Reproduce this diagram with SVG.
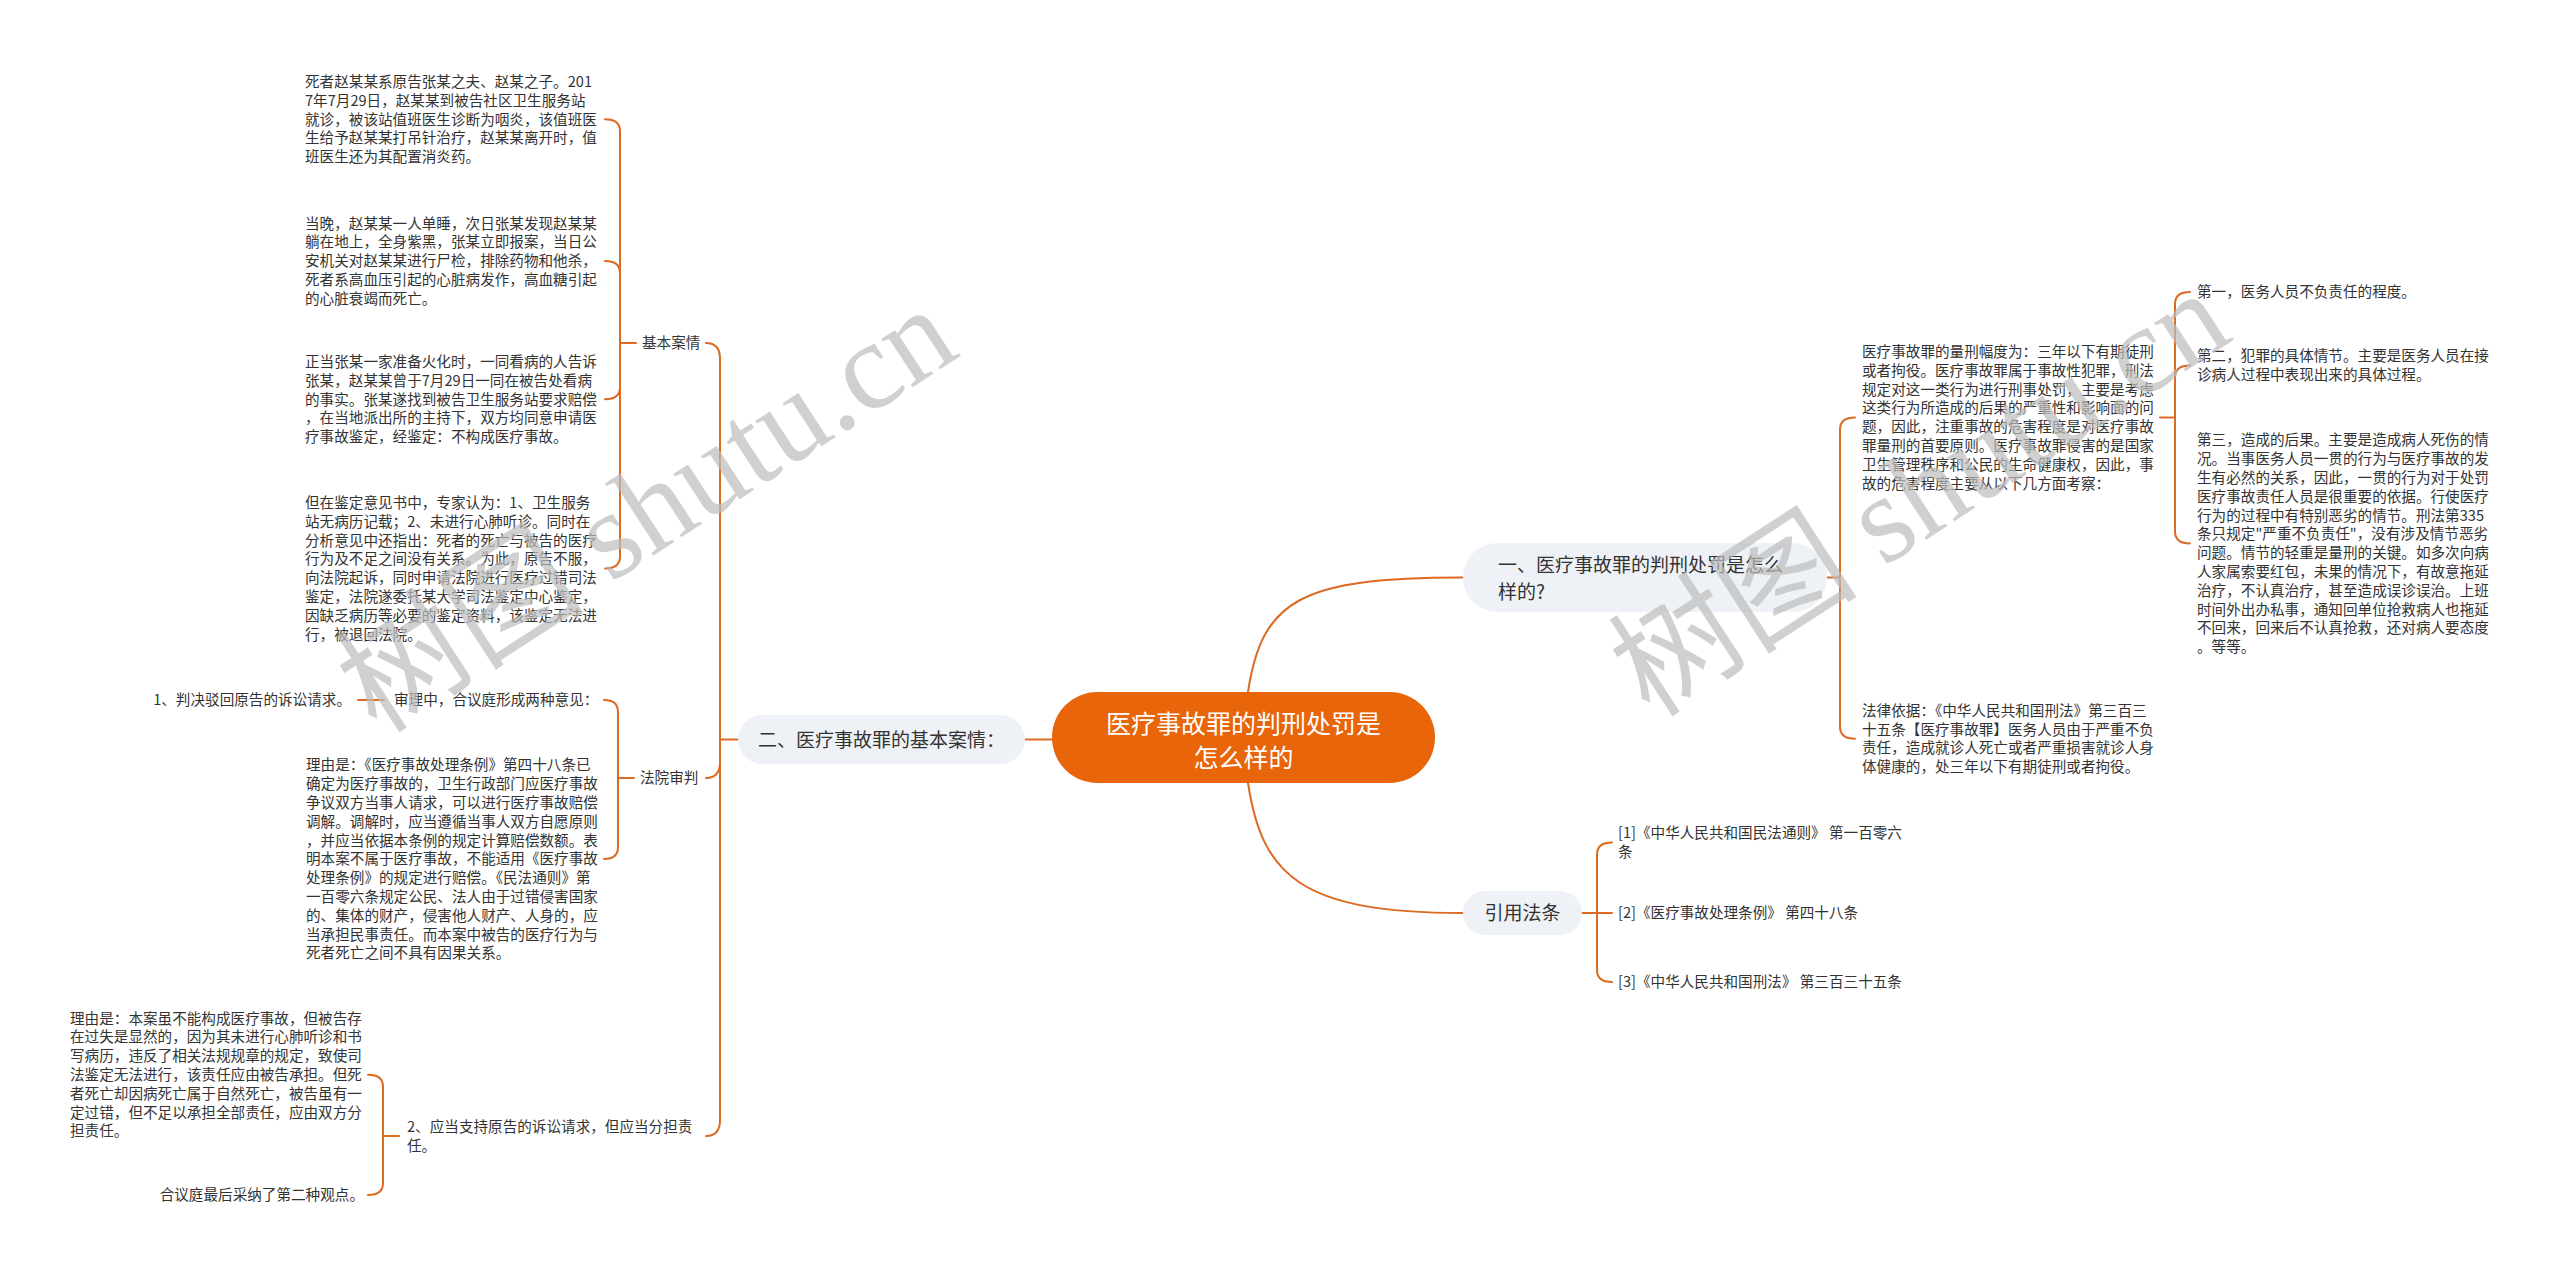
<svg xmlns="http://www.w3.org/2000/svg" width="2560" height="1275" viewBox="0 0 2560 1275">
<style>
.c{fill:none;stroke:#DC6A22;stroke-width:2;stroke-linecap:round}
.t{font-family:"Noto Sans CJK SC","Noto Sans",sans-serif;font-size:14.6px;fill:#333}
.b{font-family:"Noto Sans CJK SC","Noto Sans",sans-serif;font-size:19px;fill:#333}
.r{font-family:"Noto Sans CJK SC","Noto Sans",sans-serif;font-size:25px;fill:#fff}
.bn{fill:#EEF1F5}
.wm{font-family:"Noto Sans CJK SC","Liberation Serif",serif;font-size:125px;fill:#bdbdbd;opacity:.7}
</style>
<rect width="2560" height="1275" fill="#fff"/>
<g id="connectors">
<path class="c" d="M1052,739.5 H1025"/>
<path class="c" d="M1248,692 C1262,600 1300,577.5 1463,577.5"/>
<path class="c" d="M1248,783 C1262,875 1300,913 1463,913"/>
<path class="c" d="M738,739.5 H720 M720,739.5 V359 Q720,343 706,343 M720,739.5 V762 Q720,778 706,778 M720,739.5 V1120 Q720,1136 706,1136"/>
<path class="c" d="M636,343 H620 M620,343 V131.3 Q620,119.3 605,119.3 M620,343 V272.9 Q620,260.9 605,260.9 M620,343 V387.3 Q620,399.3 605,399.3 M620,343 V556.5 Q620,568.5 605,568.5"/>
<path class="c" d="M634,778 H618 M618,778 V712 Q618,700 604,700 M618,778 V847 Q618,859 604,859"/>
<path class="c" d="M399,1136 H383 M383,1136 V1086.7 Q383,1074.7 368,1074.7 M383,1136 V1183 Q383,1195 368,1195"/>
<path class="c" d="M384,700 H358"/>
<path class="c" d="M1827,577.5 H1840 M1840,577.5 V429.5 Q1840,417.5 1855,417.5 M1840,577.5 V726.7 Q1840,738.7 1855,738.7"/>
<path class="c" d="M2160,417.5 H2175 M2175,417.5 V304 Q2175,292 2190,292 M2175,417.5 V377.4 Q2175,365.4 2190,365.4 M2175,417.5 V531.4 Q2175,543.4 2190,543.4"/>
<path class="c" d="M1582,913 H1612 M1597,913 V854.4 Q1597,842.4 1612,842.4 M1597,913 V970 Q1597,982 1612,982"/>
</g>
<g id="root">
<rect x="1052" y="692" width="383" height="91" rx="45.5" fill="#E8650A"/>
<text class="r" text-anchor="middle"><tspan x="1243.5" y="732.5">医疗事故罪的判刑处罚是</tspan><tspan x="1243.5" y="766.5">怎么样的</tspan></text>
</g>
<g id="branch-left">
<rect class="bn" x="738" y="715" width="287" height="49" rx="24.5"/>
<text class="b" x="881.5" y="746.5" text-anchor="middle">二、医疗事故罪的基本案情：</text>
</g>
<g id="branch-right1">
<rect class="bn" x="1463" y="543" width="364" height="69" rx="34.5"/>
<text class="b"><tspan x="1498" y="572">一、医疗事故罪的判刑处罚是怎么</tspan><tspan x="1498" y="599">样的?</tspan></text>
</g>
<g id="branch-right2">
<rect class="bn" x="1463" y="891" width="119" height="44" rx="22"/>
<text class="b" x="1522.5" y="920" text-anchor="middle">引用法条</text>
</g>
<g id="jibenanqing"><text class="t" x="642" y="348.3">基本案情</text></g>
<g id="fayuanshenpan"><text class="t" x="640" y="783.3">法院审判</text></g>
<g id="case-a"><text class="t"><tspan x="305" y="87">死者赵某某系原告张某之夫、赵某之子。201</tspan><tspan x="305" dy="18.8">7年7月29日，赵某某到被告社区卫生服务站</tspan><tspan x="305" dy="18.8">就诊，被该站值班医生诊断为咽炎，该值班医</tspan><tspan x="305" dy="18.8">生给予赵某某打吊针治疗，赵某某离开时，值</tspan><tspan x="305" dy="18.8">班医生还为其配置消炎药。</tspan></text></g>
<g id="case-b"><text class="t"><tspan x="305" y="228.6">当晚，赵某某一人单睡，次日张某发现赵某某</tspan><tspan x="305" dy="18.8">躺在地上，全身紫黑，张某立即报案，当日公</tspan><tspan x="305" dy="18.8">安机关对赵某某进行尸检，排除药物和他杀，</tspan><tspan x="305" dy="18.8">死者系高血压引起的心脏病发作，高血糖引起</tspan><tspan x="305" dy="18.8">的心脏衰竭而死亡。</tspan></text></g>
<g id="case-c"><text class="t"><tspan x="305" y="367">正当张某一家准备火化时，一同看病的人告诉</tspan><tspan x="305" dy="18.8">张某，赵某某曾于7月29日一同在被告处看病</tspan><tspan x="305" dy="18.8">的事实。张某遂找到被告卫生服务站要求赔偿</tspan><tspan x="305" dy="18.8">，在当地派出所的主持下，双方均同意申请医</tspan><tspan x="305" dy="18.8">疗事故鉴定，经鉴定：不构成医疗事故。</tspan></text></g>
<g id="case-d"><text class="t"><tspan x="305" y="508">但在鉴定意见书中，专家认为：1、卫生服务</tspan><tspan x="305" dy="18.8">站无病历记载；2、未进行心肺听诊。同时在</tspan><tspan x="305" dy="18.8">分析意见中还指出：死者的死亡与被告的医疗</tspan><tspan x="305" dy="18.8">行为及不足之间没有关系。为此，原告不服，</tspan><tspan x="305" dy="18.8">向法院起诉，同时申请法院进行医疗过错司法</tspan><tspan x="305" dy="18.8">鉴定，法院遂委托某大学司法鉴定中心鉴定，</tspan><tspan x="305" dy="18.8">因缺乏病历等必要的鉴定资料，该鉴定无法进</tspan><tspan x="305" dy="18.8">行，被退回法院。</tspan></text></g>
<g id="shenlizhong"><text class="t" x="394" y="705.3">审理中，合议庭形成两种意见：</text></g>
<g id="opinion-1"><text class="t" x="351" y="705.3" text-anchor="end">1、判决驳回原告的诉讼请求。</text></g>
<g id="reason-1"><text class="t"><tspan x="306" y="770.3">理由是：《医疗事故处理条例》第四十八条已</tspan><tspan x="306" dy="18.8">确定为医疗事故的，卫生行政部门应医疗事故</tspan><tspan x="306" dy="18.8">争议双方当事人请求，可以进行医疗事故赔偿</tspan><tspan x="306" dy="18.8">调解。调解时，应当遵循当事人双方自愿原则</tspan><tspan x="306" dy="18.8">，并应当依据本条例的规定计算赔偿数额。表</tspan><tspan x="306" dy="18.8">明本案不属于医疗事故，不能适用《医疗事故</tspan><tspan x="306" dy="18.8">处理条例》的规定进行赔偿。《民法通则》第</tspan><tspan x="306" dy="18.8">一百零六条规定公民、法人由于过错侵害国家</tspan><tspan x="306" dy="18.8">的、集体的财产，侵害他人财产、人身的，应</tspan><tspan x="306" dy="18.8">当承担民事责任。而本案中被告的医疗行为与</tspan><tspan x="306" dy="18.8">死者死亡之间不具有因果关系。</tspan></text></g>
<g id="opinion-2"><text class="t"><tspan x="407" y="1132">2、应当支持原告的诉讼请求，但应当分担责</tspan><tspan x="407" dy="18.8">任。</tspan></text></g>
<g id="reason-2"><text class="t"><tspan x="70" y="1023.6">理由是：本案虽不能构成医疗事故，但被告存</tspan><tspan x="70" dy="18.8">在过失是显然的，因为其未进行心肺听诊和书</tspan><tspan x="70" dy="18.8">写病历，违反了相关法规规章的规定，致使司</tspan><tspan x="70" dy="18.8">法鉴定无法进行，该责任应由被告承担。但死</tspan><tspan x="70" dy="18.8">者死亡却因病死亡属于自然死亡，被告虽有一</tspan><tspan x="70" dy="18.8">定过错，但不足以承担全部责任，应由双方分</tspan><tspan x="70" dy="18.8">担责任。</tspan></text></g>
<g id="final"><text class="t" x="364" y="1200.3" text-anchor="end">合议庭最后采纳了第二种观点。</text></g>
<g id="sentencing"><text class="t"><tspan x="1862" y="357">医疗事故罪的量刑幅度为：三年以下有期徒刑</tspan><tspan x="1862" dy="18.8">或者拘役。医疗事故罪属于事故性犯罪，刑法</tspan><tspan x="1862" dy="18.8">规定对这一类行为进行刑事处罚，主要是考虑</tspan><tspan x="1862" dy="18.8">这类行为所造成的后果的严重性和影响面的问</tspan><tspan x="1862" dy="18.8">题，因此，注重事故的危害程度是对医疗事故</tspan><tspan x="1862" dy="18.8">罪量刑的首要原则。医疗事故罪侵害的是国家</tspan><tspan x="1862" dy="18.8">卫生管理秩序和公民的生命健康权，因此，事</tspan><tspan x="1862" dy="18.8">故的危害程度主要从以下几方面考察：</tspan></text></g>
<g id="legal-basis"><text class="t"><tspan x="1862" y="715.8">法律依据：《中华人民共和国刑法》第三百三</tspan><tspan x="1862" dy="18.8">十五条【医疗事故罪】医务人员由于严重不负</tspan><tspan x="1862" dy="18.8">责任，造成就诊人死亡或者严重损害就诊人身</tspan><tspan x="1862" dy="18.8">体健康的，处三年以下有期徒刑或者拘役。</tspan></text></g>
<g id="first"><text class="t" x="2197" y="297.3">第一，医务人员不负责任的程度。</text></g>
<g id="second"><text class="t"><tspan x="2197" y="361.3">第二，犯罪的具体情节。主要是医务人员在接</tspan><tspan x="2197" dy="18.8">诊病人过程中表现出来的具体过程。</tspan></text></g>
<g id="third"><text class="t"><tspan x="2197" y="445.3">第三，造成的后果。主要是造成病人死伤的情</tspan><tspan x="2197" dy="18.8">况。当事医务人员一贯的行为与医疗事故的发</tspan><tspan x="2197" dy="18.8">生有必然的关系，因此，一贯的行为对于处罚</tspan><tspan x="2197" dy="18.8">医疗事故责任人员是很重要的依据。行使医疗</tspan><tspan x="2197" dy="18.8">行为的过程中有特别恶劣的情节。刑法第335</tspan><tspan x="2197" dy="18.8">条只规定"严重不负责任"，没有涉及情节恶劣</tspan><tspan x="2197" dy="18.8">问题。情节的轻重是量刑的关键。如多次向病</tspan><tspan x="2197" dy="18.8">人家属索要红包，未果的情况下，有故意拖延</tspan><tspan x="2197" dy="18.8">治疗，不认真治疗，甚至造成误诊误治。上班</tspan><tspan x="2197" dy="18.8">时间外出办私事，通知回单位抢救病人也拖延</tspan><tspan x="2197" dy="18.8">不回来，回来后不认真抢救，还对病人要态度</tspan><tspan x="2197" dy="18.8">。等等。</tspan></text></g>
<g id="ref-1"><text class="t"><tspan x="1618" y="838.3">[1]《中华人民共和国民法通则》 第一百零六</tspan><tspan x="1618" dy="18.8">条</tspan></text></g>
<g id="ref-2"><text class="t" x="1618" y="918.3">[2]《医疗事故处理条例》 第四十八条</text></g>
<g id="ref-3"><text class="t" x="1618" y="987.3">[3]《中华人民共和国刑法》 第三百三十五条</text></g>
<g id="watermark">
<text class="wm" transform="translate(377,735) rotate(-33)">树图 <tspan font-family="Liberation Serif,serif">shutu.cn</tspan></text>
<text class="wm" transform="translate(1650,719) rotate(-33)">树图 <tspan font-family="Liberation Serif,serif">shutu.cn</tspan></text>
</g>
</svg>
